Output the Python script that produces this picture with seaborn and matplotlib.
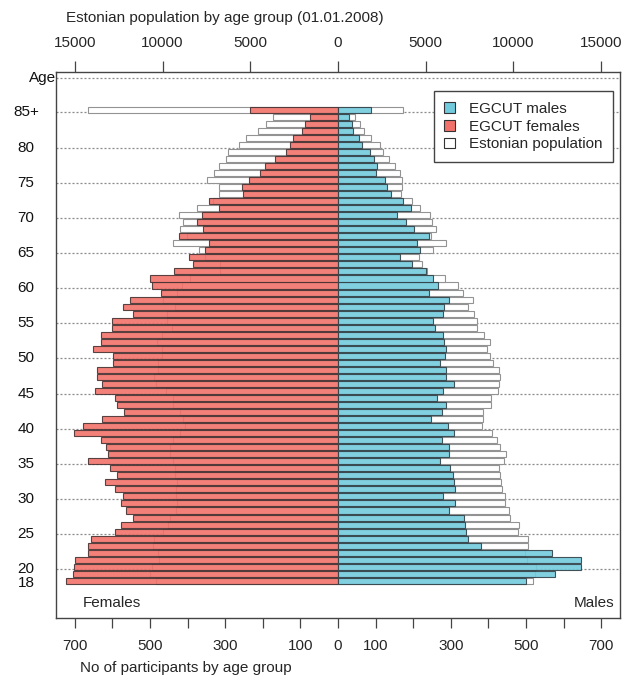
import numpy as np
import pandas as pd
import matplotlib
matplotlib.use("Agg")
import matplotlib.pyplot as plt
import seaborn as sns
from matplotlib.patches import Patch
from matplotlib.transforms import blended_transform_factory

# ---------------- data (age 18 ... 84, 85+) ----------------
ages = [str(a) for a in range(18, 85)] + ["85+"]

female_participants = [
    724, 705, 702, 700, 665, 665, 658, 592, 577, 546,   # 18-27
    565, 578, 571, 592, 620, 589, 607, 665, 611, 616,   # 28-37
    630, 702, 677, 627, 570, 589, 593, 647, 627, 640,   # 38-47
    640, 598, 598, 652, 630, 630, 602, 602, 545, 572,   # 48-57
    552, 470, 494, 501, 437, 386, 395, 355, 342, 422,   # 58-67
    360, 375, 363, 316, 344, 253, 254, 238, 207, 195,   # 68-77
    167, 139, 127, 119, 96, 88, 74, 233]                # 78-84, 85+

male_participants = [
    501, 578, 645, 645, 569, 379, 346, 341, 339, 335,
    294, 312, 279, 312, 309, 306, 297, 272, 294, 294,
    277, 308, 293, 247, 277, 288, 262, 278, 309, 288,
    288, 271, 284, 286, 282, 279, 257, 253, 279, 281,
    294, 241, 266, 253, 233, 197, 164, 219, 209, 242,
    202, 182, 158, 194, 173, 142, 131, 125, 100, 105,
    96, 85, 64, 57, 41, 36, 30, 89]

female_population = [
    10360, 10700, 10610, 10190, 10230, 10550, 10480, 9980, 9700, 9560,
    9220, 9180, 9240, 9240, 9180, 9280, 9280, 9380, 9560, 9560,
    9410, 9000, 8710, 8810, 9000, 9380, 9380, 9810, 10380, 10480,
    10230, 10230, 10040, 10040, 10320, 10040, 9470, 9750, 9750, 9280,
    9950, 9180, 8900, 8430, 6720, 6720, 7600, 7900, 9380, 8600,
    9000, 8840, 9070, 8040, 7100, 6780, 6760, 7460, 7080, 6780,
    6380, 6280, 5640, 5260, 4540, 4100, 3720, 14270]

male_population = [
    11120, 11220, 11310, 10780, 10650, 10830, 10830, 10260, 10300, 9830,
    9750, 9510, 9510, 9320, 9280, 9220, 9170, 9450, 9550, 9220,
    9040, 8780, 8180, 8270, 8270, 8710, 8710, 9130, 9170, 9220,
    9180, 8810, 8690, 8500, 8690, 8310, 7900, 7950, 7760, 7420,
    7700, 7130, 6820, 6090, 5050, 4800, 4610, 5430, 6150, 5290,
    5580, 5370, 5240, 4670, 4230, 3590, 3630, 3630, 3530, 3250,
    2920, 2580, 2390, 1860, 1480, 1250, 970, 3680]

label_ages = ["20", "25", "30", "35", "40", "45", "50", "55", "60",
              "65", "70", "75", "80", "85+"]
bottom_ticks = [-700, -600, -500, -400, -300, -200, -100, 0,
                100, 200, 300, 400, 500, 600, 700]
bottom_labels = ["700", "", "500", "", "300", "", "100", "0",
                 "100", "", "300", "", "500", "", "700"]
top_ticks = [-15000, -10000, -5000, 0, 5000, 10000, 15000]
top_labels = ["15000", "10000", "5000", "0", "5000", "10000", "15000"]

POP_PER_PART = 15000 / 700   # top axis units per bottom axis unit

df = pd.DataFrame({
    "pos": np.arange(len(ages)),
    "age": ages,
    "f_part": -np.array(female_participants, dtype=float),
    "m_part": np.array(male_participants, dtype=float),
    "f_pop": -np.array(female_population, dtype=float) / POP_PER_PART,
    "m_pop": np.array(male_population, dtype=float) / POP_PER_PART,
})

# ---------------- style ----------------
sns.set_style("ticks")
plt.rcParams["font.family"] = ["Liberation Sans", "DejaVu Sans"]
plt.rcParams["font.size"] = 11

BLUE = "#72cbdd"
RED = "#f2726b"

fig = plt.figure(figsize=(6.24, 6.80), dpi=100)
ax = fig.add_axes([56 / 624, 62 / 680, 564 / 624, 546 / 680])

pos_of = {a: i for i, a in enumerate(ages)}
line_off = -0.38

# dotted guide lines
for a in label_ages:
    ax.axhline(pos_of[a] + line_off, color="#8a8a8a", lw=0.9,
               ls=(0, (1.6, 1.6)), zorder=1)
ax.axhline(71.5, color="#8a8a8a", lw=0.9, ls=(0, (1.6, 1.6)), zorder=1)

common = dict(y="pos", data=df, orient="y", native_scale=True, width=0.86,
              errorbar=None, saturation=1, ax=ax)

# population (white) bars
for col in ["f_pop", "m_pop"]:
    sns.barplot(x=col, color="white", edgecolor="#939393", linewidth=0.8,
                zorder=2, **common)

# participant bars
sns.barplot(x="f_part", color=RED, edgecolor=(0.28, 0.2, 0.2, 0.6),
            linewidth=0.8, alpha=0.9, zorder=3, **common)
sns.barplot(x="m_part", color=BLUE, edgecolor=(0.2, 0.26, 0.28, 0.6),
            linewidth=0.8, alpha=0.9, zorder=3, **common)

ax.set_xlim(-750, 750)
ax.set_ylim(-5.29, 72.37)
ax.set_xlabel("")
ax.set_ylabel("")
ax.set_yticks([])

ax.set_xticks(bottom_ticks)
ax.set_xticklabels(bottom_labels)
ax.tick_params(axis="x", which="both", direction="out", length=7, width=0.9,
               color="#444444", labelsize=11, pad=8, bottom=True, top=False)

for sp in ax.spines.values():
    sp.set_visible(True)
    sp.set_color("#444444")
    sp.set_linewidth(1.0)

secax = ax.secondary_xaxis("top", functions=(lambda p: p * POP_PER_PART,
                                              lambda q: q / POP_PER_PART))
secax.set_xticks(top_ticks)
secax.set_xticklabels(top_labels)
secax.tick_params(direction="out", length=8, width=0.9, color="#444444",
                  labelsize=11, pad=8)
secax.spines["top"].set_visible(False)

# age labels
trans = blended_transform_factory(ax.transAxes, ax.transData)
lx = -30 / 564
for a in label_ages:
    ax.text(lx, pos_of[a] + line_off, a, transform=trans, ha="center",
            va="center", fontsize=11, color="#111111")
ax.text(lx, pos_of["18"] - 0.3, "18", transform=trans, ha="center",
        va="center", fontsize=11, color="#111111")
ax.text(0.0, 71.5, "Age", transform=trans, ha="right", va="center",
        fontsize=11, color="#111111")

ax.text(27 / 564, -3.1, "Females", transform=trans, ha="left", va="center",
        fontsize=11)
ax.text(558 / 564, -3.1, "Males", transform=trans, ha="right", va="center",
        fontsize=11)

fig.text(66 / 624, 1 - 18 / 680, "Estonian population by age group (01.01.2008)",
         ha="left", va="center", fontsize=11)
fig.text(80 / 624, 1 - 668 / 680, "No of participants by age group",
         ha="left", va="center", fontsize=11)

handles = [Patch(facecolor=BLUE, edgecolor="#333333", lw=0.8, label="EGCUT males"),
           Patch(facecolor=RED, edgecolor="#333333", lw=0.8, label="EGCUT females"),
           Patch(facecolor="white", edgecolor="#333333", lw=0.8,
                 label="Estonian population")]
leg = ax.legend(handles=handles, loc="upper right",
                bbox_to_anchor=((613 - 56) / 564, (618 - 91) / 546),
                borderaxespad=0, fancybox=False, framealpha=1,
                edgecolor="#444444", fontsize=11, handlelength=0.7,
                handleheight=0.7, handletextpad=0.9, labelspacing=0.25,
                borderpad=0.7)
leg.get_frame().set_linewidth(1.0)
leg.set_zorder(5)

fig.savefig("out.png", dpi=100)
